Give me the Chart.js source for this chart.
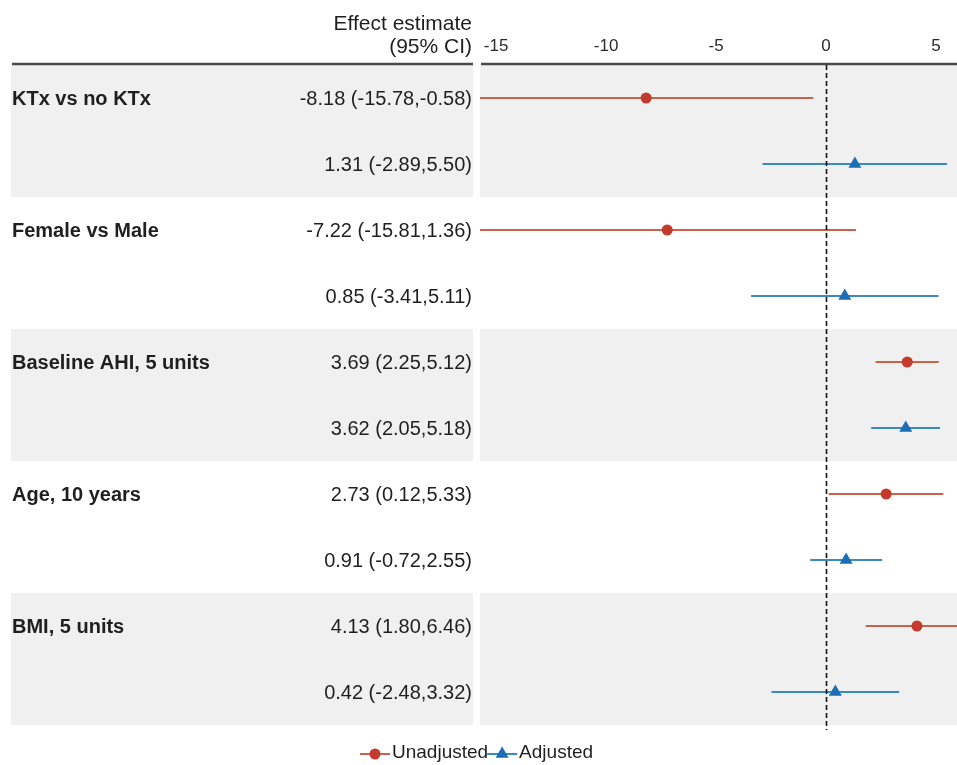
<!DOCTYPE html>
<html>
<head>
<meta charset="utf-8">
<title>Forest plot – effect estimates</title>
<script src="https://cdn.jsdelivr.net/npm/chart.js@4/dist/chart.umd.min.js"></script>
<style>
  html, body { margin: 0; padding: 0; background: #ffffff; overflow: hidden; }
  #wrap { position: relative; width: 957px; height: 765px; }
  canvas { display: block; }
</style>
</head>
<body>
<div id="wrap"><canvas id="forest"></canvas></div>
<script>
// Predictors (one group of two rows each: unadjusted, then adjusted)
const groupLabels = ['KTx vs no KTx', 'Female vs Male', 'Baseline AHI, 5 units', 'Age, 10 years', 'BMI, 5 units'];

// Unadjusted estimates and 95% CI
const unadjEst = [-8.18, -7.22, 3.69, 2.73, 4.13];
const unadjLo  = [-15.78, -15.81, 2.25, 0.12, 1.80];
const unadjHi  = [-0.58, 1.36, 5.12, 5.33, 6.46];

// Adjusted estimates and 95% CI
const adjEst = [1.31, 0.85, 3.62, 0.91, 0.42];
const adjLo  = [-2.89, -3.41, 2.05, -0.72, -2.48];
const adjHi  = [5.50, 5.11, 5.18, 2.55, 3.32];

// Axis ticks along the top
const xTicks = [-15, -10, -5, 0, 5];

const seriesNames = ['Unadjusted', 'Adjusted'];

const FONT = "'Liberation Sans', Arial, Helvetica, sans-serif";
const RED = '#c23b2c', RED_LINE = '#c9614d';
const BLUE = '#1b6db6', BLUE_LINE = '#3b89c2';
const BAND = '#f0f0f0';
const TEXT = '#1f1f1f';

const fmt = v => v.toFixed(2);
const ciText = (e, lo, hi) => fmt(e) + ' (' + fmt(lo) + ',' + fmt(hi) + ')';

// Row index: group g -> unadjusted on row 2g, adjusted on row 2g+1
const unadjPoints = unadjEst.map((v, g) => ({ x: v, y: 2 * g }));
const adjPoints = adjEst.map((v, g) => ({ x: v, y: 2 * g + 1 }));

const ciSets = [];
groupLabels.forEach((_, g) => {
  ciSets.push({
    type: 'line', order: 2, borderColor: RED_LINE, borderWidth: 2, pointRadius: 0,
    data: [{ x: unadjLo[g], y: 2 * g }, { x: unadjHi[g], y: 2 * g }]
  });
  ciSets.push({
    type: 'line', order: 2, borderColor: BLUE_LINE, borderWidth: 2, pointRadius: 0,
    data: [{ x: adjLo[g], y: 2 * g + 1 }, { x: adjHi[g], y: 2 * g + 1 }]
  });
});

// Left text table, shaded bands, header rule, null line and legend
const forestDecor = {
  id: 'forestDecor',
  beforeDatasetsDraw(chart) {
    const { ctx, chartArea: ca, scales: { x, y } } = chart;
    ctx.save();
    // shaded bands for alternate groups
    groupLabels.forEach((_, g) => {
      if (g % 2 !== 0) return;
      const top = y.getPixelForValue(2 * g - 0.5);
      const bot = y.getPixelForValue(2 * g + 1.5);
      ctx.fillStyle = BAND;
      ctx.fillRect(11, top, 462, bot - top);
      ctx.fillRect(ca.left, top, ca.right - ca.left, bot - top);
    });
    // header rule
    ctx.strokeStyle = '#4a4a4a';
    ctx.lineWidth = 2.5;
    ctx.beginPath();
    ctx.moveTo(12, ca.top - 1); ctx.lineTo(473, ca.top - 1);
    ctx.moveTo(481, ca.top - 1); ctx.lineTo(ca.right, ca.top - 1);
    ctx.stroke();

    // header text
    ctx.fillStyle = TEXT;
    ctx.textAlign = 'right';
    ctx.textBaseline = 'alphabetic';
    ctx.font = '21px ' + FONT;
    ctx.fillText('Effect estimate', 472, 30);
    ctx.fillText('(95% CI)', 472, 53);

    // group labels and estimate text
    ctx.textBaseline = 'middle';
    groupLabels.forEach((lab, g) => {
      const y0 = y.getPixelForValue(2 * g);
      const y1 = y.getPixelForValue(2 * g + 1);
      ctx.font = 'bold 20px ' + FONT;
      ctx.textAlign = 'left';
      ctx.fillText(lab, 12, y0 + 1);
      ctx.font = '20px ' + FONT;
      ctx.textAlign = 'right';
      ctx.fillText(ciText(unadjEst[g], unadjLo[g], unadjHi[g]), 472, y0 + 1);
      ctx.fillText(ciText(adjEst[g], adjLo[g], adjHi[g]), 472, y1 + 1);
    });
    ctx.restore();
  },
  afterDatasetsDraw(chart) {
    const { ctx, chartArea: ca, scales: { x } } = chart;
    ctx.save();
    // null-effect reference line
    const x0 = Math.round(x.getPixelForValue(0)) + 0.5;
    ctx.strokeStyle = '#111111';
    ctx.lineWidth = 1.6;
    ctx.setLineDash([5, 3]);
    ctx.beginPath();
    ctx.moveTo(x0, ca.top);
    ctx.lineTo(x0, ca.bottom + 5);
    ctx.stroke();
    ctx.setLineDash([]);

    // legend
    const ly = 753;
    ctx.font = '19px ' + FONT;
    ctx.textAlign = 'left';
    ctx.textBaseline = 'middle';
    const drawKey = (xs, color, lineColor, style, radius, label) => {
      ctx.strokeStyle = lineColor;
      ctx.lineWidth = 2;
      ctx.beginPath();
      ctx.moveTo(xs, ly + 1); ctx.lineTo(xs + 30, ly + 1);
      ctx.stroke();
      ctx.fillStyle = color;
      ctx.beginPath();
      if (style === 'circle') {
        ctx.arc(xs + 15, ly + 1, radius, 0, Math.PI * 2);
      } else {
        ctx.moveTo(xs + 15, ly + 1 - radius);
        ctx.lineTo(xs + 15 + radius * 0.866, ly + 1 + radius * 0.5);
        ctx.lineTo(xs + 15 - radius * 0.866, ly + 1 + radius * 0.5);
        ctx.closePath();
      }
      ctx.fill();
      ctx.fillStyle = TEXT;
      ctx.fillText(label, xs + 32, ly);
      return xs + 32 + ctx.measureText(label).width;
    };
    const nx = drawKey(360, RED, RED_LINE, 'circle', 5.5, seriesNames[0]);
    drawKey(nx - 1, BLUE, BLUE_LINE, 'triangle', 7.5, seriesNames[1]);
    ctx.restore();
  }
};

new Chart(document.getElementById('forest'), {
  type: 'scatter',
  data: {
    datasets: [
      {
        label: seriesNames[0], order: 0, data: unadjPoints,
        pointStyle: 'circle', pointRadius: 5.5,
        backgroundColor: RED, borderColor: RED, borderWidth: 0
      },
      {
        label: seriesNames[1], order: 0, data: adjPoints,
        pointStyle: 'triangle', pointRadius: 7.5,
        backgroundColor: BLUE, borderColor: BLUE, borderWidth: 0
      },
      ...ciSets
    ]
  },
  options: {
    responsive: true,
    maintainAspectRatio: false,
    animation: false,
    events: [],
    layout: { autoPadding: false, padding: { left: 480, right: 0, top: 0, bottom: 40 } },
    plugins: { legend: { display: false }, tooltip: { enabled: false } },
    scales: {
      x: {
        type: 'linear',
        position: 'top',
        min: -15.73,
        max: 5.95,
        grid: { display: false, drawTicks: false },
        border: { display: false },
        afterBuildTicks: s => { s.ticks = xTicks.map(v => ({ value: v })); },
        afterFit: s => {
          s.height = 65;
          s.paddingLeft = 0;
          s.paddingRight = 0;
        },
        ticks: {
          padding: 8,
          color: '#2a2a2a',
          font: { family: FONT, size: 17 },
          callback: v => String(v)
        }
      },
      y: {
        type: 'linear',
        display: false,
        reverse: true,
        min: -0.5,
        max: 9.5
      }
    }
  },
  plugins: [forestDecor]
});
</script>
</body>
</html>
